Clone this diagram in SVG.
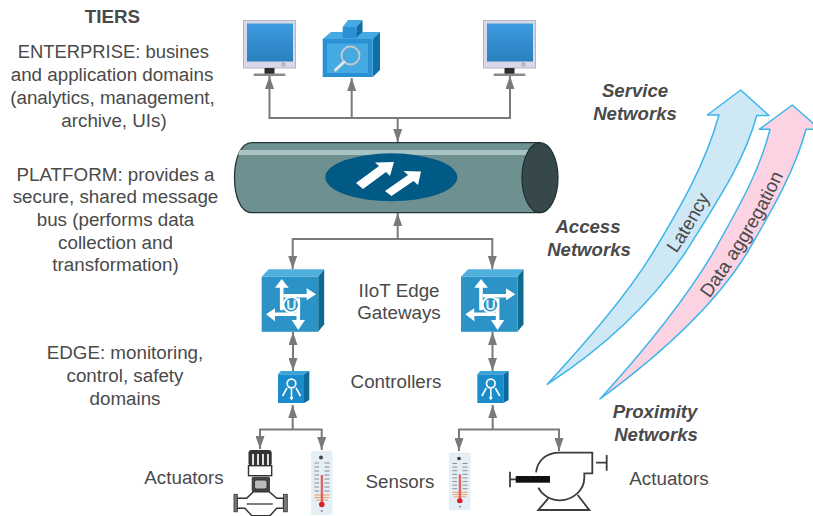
<svg xmlns="http://www.w3.org/2000/svg" width="813" height="516" viewBox="0 0 813 516">
<style>
text{font-family:"Liberation Sans",Arial,sans-serif;font-size:18.8px;fill:#4a4a4a;text-anchor:middle}
.h{font-weight:bold;font-style:italic;fill:#4a4a4a;font-size:18.6px}
.c{fill:none;stroke:#7a7a7a;stroke-width:2}
.w{fill:#fff}
.pl{fill:none;stroke:#3c3c3c;stroke-width:1.8}
.band{stroke:#3db6ea;stroke-width:1.500;stroke-linejoin:round}
</style>
<defs>
<linearGradient id="scr" x1="0" y1="0" x2="0" y2="1"><stop offset="0" stop-color="#3d9be0"/><stop offset="1" stop-color="#2b7fbe"/></linearGradient>
<marker id="a" viewBox="0 0 13 9" refX="13" refY="4.500" markerWidth="13" markerHeight="9" markerUnits="userSpaceOnUse" orient="auto-start-reverse"><path d="M0 0L13 4.500L0 9z" fill="#7a7a7a"/></marker>
<path id="lat-base" d="M660 276C680 250 700 220 722 172"/>
<path id="agg-base" d="M700 312C730 270 765 220 790 160"/>
<g id="monitor">
<rect x="0" y="0" width="52" height="47.500" fill="#d8d8e8" stroke="#b4b4c4" stroke-width="1"/>
<rect x="3.500" y="3" width="46" height="38" fill="url(#scr)"/>
<circle cx="40" cy="44" r="1.500" fill="none" stroke="#777" stroke-width=".7"/>
<rect x="21" y="47.500" width="10" height="6" fill="#2c2c2c"/>
<rect x="10" y="53" width="32" height="2.500" rx="1.200" fill="#8a8a8a"/>
</g>
<g id="gateway">
<path d="M0 7.500L7 0H62.500L56.500 7.500z" fill="#4fb0de"/>
<path d="M56.500 7.500L62.500 0V55L56.500 62.500z" fill="#0f6a91"/>
<rect x="0" y="7.500" width="56.500" height="55" fill="#2b93c6"/>
<path d="M20 17V41M22 26.500H46M12 45H36.600V52M36.600 29V45" fill="none" stroke="#fff" stroke-width="3.600"/>
<path class="w" d="M20 9.700L27 18.400H13.300zM54.300 25L45 19V31zM4.300 45L13.300 39V52zM36.600 60.700L30 50.700H43.300z"/>
<circle cx="29.500" cy="35.500" r="7.800" fill="#2b93c6" stroke="#fff" stroke-width="2"/>
<text x="29.500" y="40.500" style="font-size:14px;font-weight:bold;fill:#dfeff7">U</text>
</g>
<g id="controller">
<path d="M0 3.300L3 0H31.500L26 3.300z" fill="#3aa4dc"/>
<path d="M26 3.300L31.300 0V29L26 32z" fill="#0d6a9a"/>
<rect x="0" y="3.300" width="26" height="28.700" fill="#1a8ccb"/>
<circle cx="13.500" cy="12.500" r="4.300" fill="none" stroke="#fff" stroke-width="1.700"/>
<path fill="none" stroke="#fff" stroke-width="1.600" d="M13.500 18V28M9 17L4.500 25M18 17L22.500 25"/>
<path class="w" d="M11.500 26H15.500L13.500 29.500z"/>
</g>
<g id="thermo">
<rect x="0" y="0" width="21.500" height="64" rx="2" fill="#e3eff5"/>
<circle cx="10" cy="6.500" r="2" fill="#444"/>
<path d="M3.500 12H8M13.500 12H18.500M3.500 16H8M13.500 16H18.500M3.500 20H8M13.500 20H18.500M3.500 24H8M13.500 24H18.500M3.500 28H8M13.500 28H18.500M3.500 32H8M13.500 32H18.500M3.500 36H8M13.500 36H18.500M3.500 40H8M13.500 40H18.500" stroke="#8a8a8a" stroke-width="1" fill="none"/>
<path d="M3.500 44H18.500M3.500 46.500H18.500M5 49H17" stroke="#f0a060" stroke-width="1" fill="none"/>
<rect x="9.700" y="24" width="2.400" height="29" fill="#dd6466"/>
<circle cx="10.800" cy="53.500" r="2.800" fill="#d8202a"/>
<circle cx="10.800" cy="60" r="1" fill="#888"/>
</g>
</defs>

<g id="connectors">
<path class="c" d="M269.500 118V76" marker-end="url(#a)"/>
<path class="c" d="M351.700 118V78" marker-end="url(#a)"/>
<path class="c" d="M510 118V76" marker-end="url(#a)"/>
<path class="c" d="M268.500 118H511"/>
<path class="c" d="M397.700 118V142" marker-end="url(#a)"/>
<path class="c" d="M397.700 239V213" marker-end="url(#a)"/>
<path class="c" d="M292.700 239H492.300"/>
<path class="c" d="M292.700 238V269" marker-end="url(#a)"/>
<path class="c" d="M492.300 238V269" marker-end="url(#a)"/>
<path class="c" d="M293 332V371" marker-start="url(#a)" marker-end="url(#a)"/>
<path class="c" d="M492.500 332V371" marker-start="url(#a)" marker-end="url(#a)"/>
<path class="c" d="M292.700 429.500V405" marker-end="url(#a)"/>
<path class="c" d="M492.700 429.500V405" marker-end="url(#a)"/>
<path class="c" d="M260 449V429.500H321.700V450" marker-start="url(#a)" marker-end="url(#a)"/>
<path class="c" d="M459 451V429.500H559V451" marker-start="url(#a)" marker-end="url(#a)"/>
</g>

<g id="monitor-1"><use href="#monitor" x="243.500" y="20.500"/></g>
<g id="analytics">
<path d="M322.700 39L331 32H380L372.700 39z" fill="#46a9e2"/>
<path d="M372.700 39L380 32V70L372.700 77z" fill="#0e6ea8"/>
<rect x="322.700" y="39" width="50" height="38" fill="#2a90d4"/>
<rect x="327" y="43.500" width="41" height="29.500" fill="#46aae2"/>
<path d="M342.700 27L348 20H362.500L356.300 27z" fill="#46a9e2"/>
<path d="M356.300 27L362.500 20V32L356.300 37.500z" fill="#0e6ea8"/>
<rect x="342.700" y="27" width="13.600" height="11" fill="#2a90d4"/>
<circle cx="350.500" cy="55.500" r="9" fill="none" stroke="#c8c8c8" stroke-width="1.800"/>
<path d="M344 62L335.500 70" stroke="#e6e6e6" stroke-width="3" stroke-linecap="round"/>
</g>
<g id="monitor-2"><use href="#monitor" x="483.500" y="20.500"/></g>

<g id="bus">
<path d="M252 142.700H540V212.700H252C240 212.700 234.500 195 234.500 177.700C234.500 160 240 142.700 252 142.700z" fill="#6f9091" stroke="#263638" stroke-width="1.300"/>
<path d="M240 150H530V155H238z" fill="#a9c2c2"/>
<ellipse cx="540" cy="177.700" rx="18" ry="35" fill="#36484a" stroke="#1e2c2e" stroke-width="1.200"/>
<ellipse cx="391.300" cy="177.300" rx="66" ry="24" fill="#005a85"/>
<path class="w" d="M356 183L379 166L375 162.500L394 162L390 176L386 172L363 189z"/>
<path class="w" d="M385 191L408 175L403.500 171L421 171.500L418 185L413.500 181L391.500 196z"/>
</g>

<g id="gateway-1"><use href="#gateway" x="261.700" y="269.300"/></g>
<g id="gateway-2"><use href="#gateway" x="461" y="269.300"/></g>
<g id="controller-1"><use href="#controller" x="278" y="371"/></g>
<g id="controller-2"><use href="#controller" x="477.300" y="371"/></g>

<g id="valve">
<rect x="248.500" y="450" width="23.200" height="16" rx="3" fill="#333"/>
<path d="M253 454V465M258 454V465M263 454V465M268 454V465" stroke="#fff" stroke-width="1.700"/>
<rect x="248.500" y="465.700" width="23.200" height="10" fill="#fff" stroke="#333" stroke-width="1.400"/>
<rect x="251.700" y="476.700" width="18.300" height="15" rx="1.500" fill="#444"/>
<rect x="254.500" y="480" width="12.500" height="9" rx="2" fill="#bbb" stroke="#333"/>
<path d="M237 498.300H246.700L253.300 491.700H269.300L276.700 498.300H283.500V508.300H276.700L270 515.700H251.700L245 508.300H237z" fill="#fff" stroke="#333" stroke-width="1.500"/>
<rect x="234" y="494.300" width="3.300" height="17.500" fill="#777" stroke="#333" stroke-width=".8"/>
<rect x="283.500" y="494.300" width="3.800" height="17.500" fill="#777" stroke="#333" stroke-width=".8"/>
<path d="M246.700 504H272.700" stroke="#444" stroke-width="1.400"/>
</g>
<g id="thermometer-1"><use href="#thermo" x="311" y="451"/></g>
<g id="thermometer-2"><use href="#thermo" transform="translate(449 452.700) scale(1 .9)"/></g>
<g id="pump">
<path class="pl" d="M536 472.300C538 460 546 453.500 558.300 452.700H592.300V473.300H584.300V478C584.300 490 573 500.300 560 500.300C550 500.300 542 495 538.300 487.700"/>
<path class="pl" d="M548.300 498.300L538.300 510H589.300L577.700 495"/>
<rect x="515.700" y="476" width="34.300" height="6.700" fill="#111"/>
<path class="pl" d="M510 471.700V487.300M510 479.300H516M596 462.700H606.700M606.700 455V470.700"/>
</g>

<g id="latency">
<path class="band" d="M547.300 384.300C585 343 625 298 652.700 253C680 208 705 165 719 115H707.300L740.700 90L769 115.500H756.700C745 160 718 200 685 253C650 305 600 350 547.300 384.300z" fill="#cfe8f5"/>
<text><textPath href="#lat-base" startOffset="50%">Latency</textPath></text>
</g>
<g id="data-aggregation">
<path class="band" d="M600 399C640 355 685 300 713 253C740 205 760 170 770 129.300H759.300L792.300 105L820 129.300H806C795 170 775 205 747 253C715 305 660 355 600 399z" fill="#fbd3e3"/>
<text><textPath href="#agg-base" startOffset="50%">Data aggregation</textPath></text>
</g>

<g id="labels">
<text x="112.500" y="23" style="font-weight:bold">TIERS</text>
<text x="113.300" y="58" style="font-size:18.400px">ENTERPRISE: busines</text>
<text x="112" y="80.500">and application domains</text>
<text x="112.500" y="104">(analytics, management,</text>
<text x="114" y="126.500">archive, UIs)</text>
<text x="115.500" y="180.500">PLATFORM: provides a</text>
<text x="115.500" y="203">secure, shared message</text>
<text x="115.500" y="225.500">bus (performs data</text>
<text x="115.500" y="248.500">collection and</text>
<text x="115.500" y="271">transformation)</text>
<text x="125" y="359">EDGE: monitoring,</text>
<text x="125" y="381.500">control, safety</text>
<text x="125" y="405">domains</text>
<text x="184" y="484">Actuators</text>
<text x="400" y="488">Sensors</text>
<text x="669" y="485">Actuators</text>
<text x="399" y="297">IIoT Edge</text>
<text x="399" y="319">Gateways</text>
<text x="396" y="388">Controllers</text>
<text class="h" x="635" y="97">Service</text>
<text class="h" x="635" y="120">Networks</text>
<text class="h" x="588" y="233">Access</text>
<text class="h" x="589" y="256">Networks</text>
<text class="h" x="655" y="418">Proximity</text>
<text class="h" x="656" y="441">Networks</text>
</g>
</svg>
